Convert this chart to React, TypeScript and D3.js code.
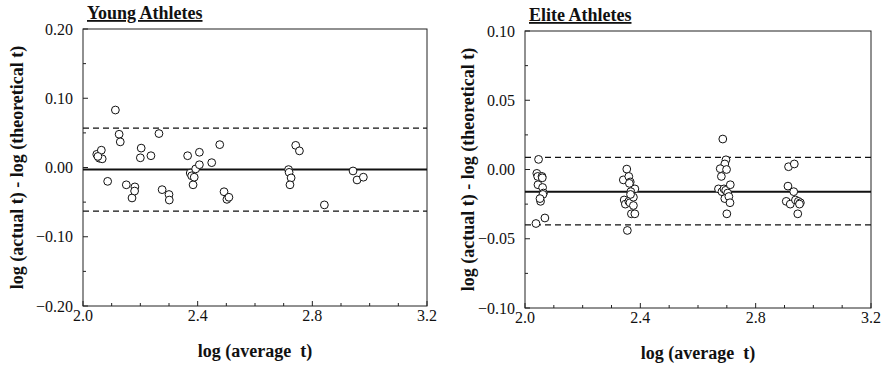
import React from "react";
import * as d3 from "d3";

// ---------- Data ----------
const youngX = [2.048, 2.057, 2.064, 2.067, 2.052, 2.086, 2.113, 2.126, 2.130, 2.151, 2.171, 2.181, 2.180, 2.203, 2.200, 2.237, 2.265, 2.276, 2.300, 2.301, 2.365, 2.374, 2.379, 2.384, 2.388, 2.393, 2.406, 2.406, 2.449, 2.477, 2.492, 2.502, 2.509, 2.717, 2.719, 2.726, 2.722, 2.742, 2.755, 2.842, 2.942, 2.956, 2.978];
const youngY = [0.019, 0.0134, 0.025, 0.0125, 0.016, -0.020, 0.083, 0.048, 0.037, -0.025, -0.044, -0.028, -0.034, 0.028, 0.014, 0.017, 0.049, -0.032, -0.039, -0.047, 0.017, -0.008, -0.012, -0.025, -0.014, -0.002, 0.022, 0.004, 0.007, 0.033, -0.035, -0.046, -0.043, -0.003, -0.007, -0.015, -0.025, 0.032, 0.024, -0.054, -0.005, -0.018, -0.014];
const youngMean = -0.003;
const youngUpper = 0.057;
const youngLower = -0.063;

const eliteX = [
  2.047, 2.041, 2.044, 2.059, 2.060, 2.045, 2.061, 2.064, 2.062, 2.054, 2.052, 2.038, 2.069,
  2.353, 2.341, 2.360, 2.365, 2.362, 2.381, 2.367, 2.344, 2.348, 2.360, 2.364, 2.376, 2.376, 2.369, 2.381, 2.355, 2.366,
  2.686, 2.697, 2.693, 2.677, 2.699, 2.681, 2.671, 2.683, 2.690, 2.696, 2.712, 2.703, 2.693, 2.707, 2.711, 2.700,
  2.914, 2.934, 2.912, 2.932, 2.906, 2.920, 2.938, 2.948, 2.955, 2.952, 2.946,
];
const eliteY = [
  0.0073, -0.0028, -0.005, -0.005, -0.006, -0.011, -0.013, -0.017, -0.018, -0.023, -0.021, -0.039, -0.035,
  0.0003, -0.0075, -0.005, -0.009, -0.010, -0.014, -0.016, -0.022, -0.025, -0.023, -0.024, -0.020, -0.026, -0.032, -0.032, -0.044, -0.018,
  0.022, 0.007, 0.004, 0.0006, 0.000, -0.005, -0.014, -0.016, -0.014, -0.015, -0.011, -0.017, -0.021, -0.0195, -0.024, -0.032,
  0.002, 0.004, -0.012, -0.016, -0.023, -0.025, -0.022, -0.023, -0.024, -0.025, -0.032,
];
const eliteMean = -0.016;
const eliteUpper = 0.0088;
const eliteLower = -0.040;

const xTicks = [2.0, 2.4, 2.8, 3.2];
const xMinor = [2.1, 2.2, 2.3, 2.5, 2.6, 2.7, 2.9, 3.0, 3.1];
const youngYTicks = [0.2, 0.1, 0.0, -0.1, -0.2];
const youngYMinor = [0.15, 0.05, -0.05, -0.15];
const eliteYTicks = [0.1, 0.05, 0.0, -0.05, -0.1];
const eliteYMinor = [0.075, 0.025, -0.025, -0.075];

const titles = ["Young Athletes", "Elite Athletes"];
const xLabel = "log (average\u00a0\u00a0t)";
const yLabel = "log (actual t) - log (theoretical t)";

const SERIF = "'Liberation Serif', 'Times New Roman', serif";

interface PanelProps {
  left: number; right: number; top: number; bottom: number;
  yDomain: [number, number];
  yTicks: number[]; yMinor: number[];
  xs: number[]; ys: number[];
  mean: number; upper: number; lower: number;
  title: string; yFmt: (v: number) => string;
  yLabelX: number;
}

function Panel(p: PanelProps) {
  const x = d3.scaleLinear().domain([2.0, 3.2]).range([p.left, p.right]);
  const y = d3.scaleLinear().domain(p.yDomain).range([p.bottom, p.top]);
  const stroke = "#222";
  const hline = (v: number) => d3.line()([[p.left, y(v)], [p.right, y(v)]]) as string;
  return (
    <g>
      <rect x={p.left} y={p.top} width={p.right - p.left} height={p.bottom - p.top} fill="none" stroke={stroke} strokeWidth={1} />
      {xTicks.map((t) => (
        <g key={"xt" + t}>
          <line x1={x(t)} x2={x(t)} y1={p.bottom} y2={p.bottom - 5} stroke={stroke} />
          <text x={x(t)} y={p.bottom + 15} textAnchor="middle" fontSize={16} fontFamily={SERIF} fill="#111">{t.toFixed(1)}</text>
        </g>
      ))}
      {xMinor.map((t) => (
        <line key={"xm" + t} x1={x(t)} x2={x(t)} y1={p.bottom} y2={p.bottom - 3} stroke={stroke} />
      ))}
      {p.yTicks.map((t) => (
        <g key={"yt" + t}>
          <line x1={p.left} x2={p.left + 5} y1={y(t)} y2={y(t)} stroke={stroke} />
          <text x={p.left - 10} y={y(t)} dy="0.35em" textAnchor="end" fontSize={16} fontFamily={SERIF} fill="#111">{p.yFmt(t)}</text>
        </g>
      ))}
      {p.yMinor.map((t) => (
        <line key={"ym" + t} x1={p.left} x2={p.left + 3} y1={y(t)} y2={y(t)} stroke={stroke} />
      ))}
      <path d={hline(p.mean)} stroke="#111" strokeWidth={2} fill="none" />
      <path d={hline(p.upper)} stroke="#111" strokeWidth={1.3} strokeDasharray="6,4" fill="none" />
      <path d={hline(p.lower)} stroke="#111" strokeWidth={1.3} strokeDasharray="6,4" fill="none" />
      {p.xs.map((xv, i) => (
        <circle key={i} cx={x(xv)} cy={y(p.ys[i])} r={3.9} fill="#fff" stroke="#111" strokeWidth={1} />
      ))}
      <text x={p.left + 4} y={p.top - 10} fontSize={18} fontWeight="bold" fontFamily={SERIF} textDecoration="underline" fill="#111">{p.title}</text>
      <text x={(p.left + p.right) / 2} y={p.bottom + 51} textAnchor="middle" fontSize={18} fontWeight="bold" fontFamily={SERIF} fill="#111">{xLabel}</text>
      <text transform={`translate(${p.yLabelX},${(p.top + p.bottom) / 2}) rotate(-90)`} textAnchor="middle" dy="0.35em" fontSize={18} fontWeight="bold" fontFamily={SERIF} fill="#111">{yLabel}</text>
    </g>
  );
}

export default function App() {
  const fmt2 = d3.format(".2f");
  return (
    <svg width={882} height={366} style={{ position: "absolute", left: 0, top: 0, background: "#fff" }}>
      <rect width={882} height={366} fill="#fff" />
      <Panel left={83} right={427} top={29} bottom={306} yDomain={[-0.2, 0.2]} yTicks={youngYTicks} yMinor={youngYMinor}
        xs={youngX} ys={youngY} mean={youngMean} upper={youngUpper} lower={youngLower} title={titles[0]} yFmt={fmt2} yLabelX={17} />
      <Panel left={525} right={871} top={31} bottom={308} yDomain={[-0.1, 0.1]} yTicks={eliteYTicks} yMinor={eliteYMinor}
        xs={eliteX} ys={eliteY} mean={eliteMean} upper={eliteUpper} lower={eliteLower} title={titles[1]} yFmt={fmt2} yLabelX={468} />
    </svg>
  );
}
